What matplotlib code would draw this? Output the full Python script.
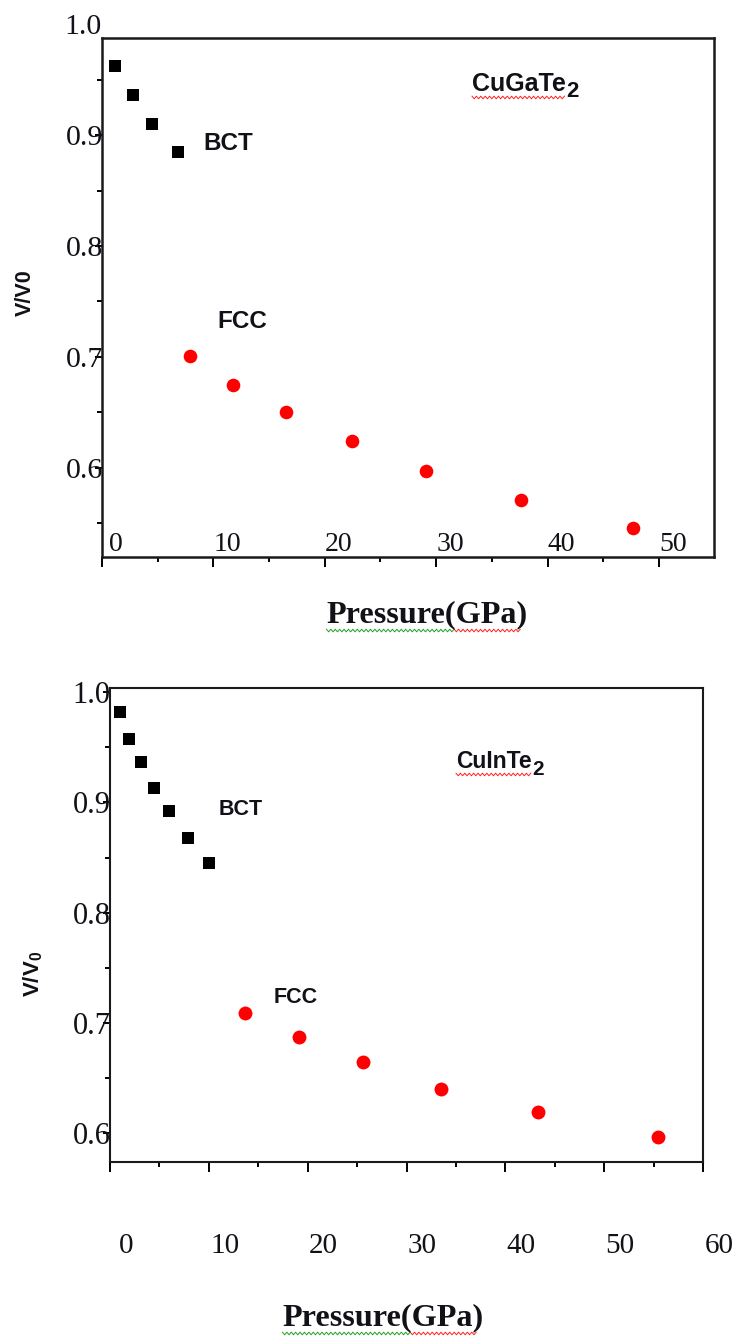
import matplotlib
matplotlib.use('Agg')
import matplotlib.pyplot as plt
import numpy as np
from matplotlib.ticker import MultipleLocator, FixedLocator
from matplotlib.transforms import ScaledTranslation, IdentityTransform
from matplotlib.lines import Line2D

# ---------------- data ----------------
cugate_bct_p = [1.2, 2.8, 4.5, 6.8]
cugate_bct_v = [0.962, 0.936, 0.910, 0.885]
cugate_fcc_p = [7.9, 11.8, 16.5, 22.4, 29.1, 37.6, 47.7]
cugate_fcc_v = [0.701, 0.675, 0.650, 0.624, 0.597, 0.571, 0.546]

cuinte_bct_p = [1.0, 1.9, 3.1, 4.5, 6.0, 7.9, 10.0]
cuinte_bct_v = [0.982, 0.958, 0.937, 0.913, 0.892, 0.868, 0.845]
cuinte_fcc_p = [13.7, 19.1, 25.6, 33.5, 43.3, 55.4]
cuinte_fcc_v = [0.709, 0.687, 0.664, 0.640, 0.619, 0.596]

top_xticks = [0, 10, 20, 30, 40, 50]
bot_xticks = [0, 10, 20, 30, 40, 50, 60]
yticks = [0.6, 0.7, 0.8, 0.9, 1.0]

# ---------------- style ----------------
plt.rcParams['font.family'] = ['Liberation Serif', 'DejaVu Serif']
plt.rcParams['mathtext.fontset'] = 'custom'
plt.rcParams['mathtext.rm'] = 'Liberation Sans:bold'
plt.rcParams['mathtext.it'] = 'Liberation Sans:bold'
plt.rcParams['mathtext.bf'] = 'Liberation Sans:bold'

TXT = '#111118'
SANS = ['Liberation Sans', 'DejaVu Sans']
SERIF = ['Liberation Serif', 'DejaVu Serif']

fig = plt.figure(figsize=(7.36, 13.42), dpi=100)
ax1 = fig.add_axes([0.1386, 0.58495, 0.8315, 0.38674])
ax2 = fig.add_axes([0.14946, 0.13450, 0.80571, 0.35283])


def style_axes(ax, xlim, ylim, xticks, xpad, xlab_dx, lw, fsx, fsy):
    ax.set_xlim(*xlim)
    ax.set_ylim(*ylim)
    for sp in ax.spines.values():
        sp.set_linewidth(lw)
        sp.set_color('#1a1a1a')
    ax.xaxis.set_major_locator(FixedLocator(xticks))
    ax.xaxis.set_minor_locator(MultipleLocator(5))
    ax.yaxis.set_major_locator(FixedLocator(yticks))
    ax.yaxis.set_minor_locator(MultipleLocator(0.05))
    ax.tick_params(axis='x', which='major', direction='out', length=7.2,
                   width=1.4, pad=xpad, labelsize=fsx, labelcolor=TXT)
    ax.tick_params(axis='x', which='minor', direction='out', length=3.6,
                   width=1.4)
    ax.tick_params(axis='y', which='major', direction='out', length=5,
                   width=1.4, pad=-5.6, labelsize=fsy, labelcolor=TXT)
    ax.tick_params(axis='y', which='minor', direction='out', length=3.6,
                   width=1.4)
    ax.set_xticklabels([str(t) for t in xticks])
    ax.set_yticklabels([f'{t:.1f}' for t in yticks])
    off = ScaledTranslation(xlab_dx / 100.0, 0, fig.dpi_scale_trans)
    for lab in ax.get_xticklabels():
        lab.set_transform(lab.get_transform() + off)
        lab.set_fontfamily(SERIF)
    for lab in ax.get_yticklabels():
        lab.set_fontfamily(SERIF)


# ---------------- top panel: CuGaTe2 ----------------
ax1.scatter(cugate_bct_p, cugate_bct_v, marker='s', s=8.5 ** 2,
            color='black', linewidths=0, zorder=3)
ax1.scatter(cugate_fcc_p, cugate_fcc_v, marker='o', s=9.8 ** 2,
            color='#ff0000', linewidths=0, zorder=3)
style_axes(ax1, (0, 54.94), (0.5194, 0.9876), top_xticks,
           xpad=-25.2, xlab_dx=14, lw=1.8, fsx=20, fsy=21.5)
# the "1.0" label sits above the frame in the reference
ax1.text(0, 1.0, '1.0', transform=ax1.get_yaxis_transform(), ha='right',
         va='center_baseline', fontsize=21.5, color=TXT, family=SERIF,
         clip_on=False)

t1 = ax1.text(0.6046, 0.8979, 'CuGaTe', transform=ax1.transAxes,
              ha='left', va='baseline', fontsize=18, fontweight='bold',
              family=SANS, color=TXT)
ax1.annotate('2', xy=(1.0, 0.0), xycoords=t1, xytext=(0.3, -4.5),
             textcoords='offset points', ha='left', va='bottom',
             fontsize=16, fontweight='bold', family=SANS, color=TXT)
ax1.text(0.165, 0.7842, 'BCT', transform=ax1.transAxes, ha='left',
         va='baseline', fontsize=17.5, fontweight='bold', family=SANS,
         color=TXT)
ax1.text(0.1879, 0.4412, 'FCC', transform=ax1.transAxes, ha='left',
         va='baseline', fontsize=17.5, fontweight='bold', family=SANS,
         color=TXT)

# ---------------- bottom panel: CuInTe2 ----------------
ax2.scatter(cuinte_bct_p, cuinte_bct_v, marker='s', s=9.0 ** 2,
            color='black', linewidths=0, zorder=3)
ax2.scatter(cuinte_fcc_p, cuinte_fcc_v, marker='o', s=10.0 ** 2,
            color='#ff0000', linewidths=0, zorder=3)
style_axes(ax2, (0, 60), (0.574, 1.0039), bot_xticks,
           xpad=44.3, xlab_dx=16, lw=1.5, fsx=21, fsy=22)

t2 = ax2.text(0.5835, 0.8311, 'CuInTe', transform=ax2.transAxes,
              ha='left', va='baseline', fontsize=16.5, fontweight='bold',
              family=SANS, color=TXT)
ax2.annotate('2', xy=(1.0, 0.0), xycoords=t2, xytext=(0.3, -4.5),
             textcoords='offset points', ha='left', va='bottom',
             fontsize=15, fontweight='bold', family=SANS, color=TXT)
ax2.text(0.1826, 0.7318, 'BCT', transform=ax2.transAxes, ha='left',
         va='baseline', fontsize=15.5, fontweight='bold', family=SANS,
         color=TXT)
ax2.text(0.2754, 0.3341, 'FCC', transform=ax2.transAxes, ha='left',
         va='baseline', fontsize=15.5, fontweight='bold', family=SANS,
         color=TXT)

# ---------------- axis titles ----------------
p1 = fig.text(0.5802, 0.5417, 'Pressure(GPa)', ha='center', va='center',
              fontsize=23.2, fontweight='bold', family=SERIF, color=TXT)
p2 = fig.text(0.5204, 0.0179, 'Pressure(GPa)', ha='center', va='center',
              fontsize=23.2, fontweight='bold', family=SERIF, color=TXT)
fig.text(0.0346, 0.7817, 'V/V0', rotation=90, ha='center', va='center',
         fontsize=15.5, fontweight='bold', family=SANS, color=TXT)
fig.text(0.0448, 0.2742, r'$\mathrm{V/V_0}$', rotation=90, ha='center',
         va='center', fontsize=16, color=TXT)

# ---------------- spell-check squiggles (as in the screenshot) ----------------
renderer = fig.canvas.get_renderer()


def squiggle(artist, color, f0=0.0, f1=1.0, dy=1.0):
    bb = artist.get_window_extent(renderer=renderer)
    x0 = bb.x0 + f0 * bb.width
    x1 = bb.x0 + f1 * bb.width
    xs = np.arange(x0, x1, 2.2)
    ys = bb.y0 - dy + np.where(np.arange(len(xs)) % 2 == 0, 1.3, -1.3)
    fig.add_artist(Line2D(xs, ys, transform=IdentityTransform(),
                          color=color, lw=0.7))


squiggle(t1, '#ff2020', dy=1.5)
squiggle(t2, '#ff2020', dy=1.5)
squiggle(p1, '#20a020', 0.0, 0.635, dy=1.0)
squiggle(p1, '#ff2020', 0.635, 0.97, dy=1.0)
squiggle(p2, '#20a020', 0.0, 0.635, dy=1.0)
squiggle(p2, '#ff2020', 0.635, 0.97, dy=1.0)

fig.savefig('out.png', dpi=100)
